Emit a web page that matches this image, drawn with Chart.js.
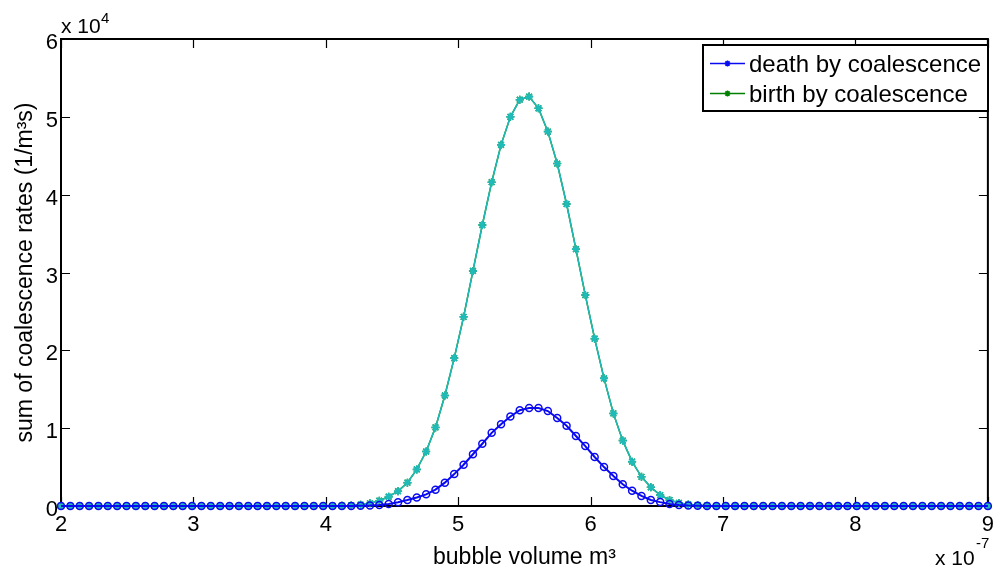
<!DOCTYPE html>
<html><head><meta charset="utf-8">
<script src="https://cdn.jsdelivr.net/npm/chart.js@4.4.1/dist/chart.umd.min.js"></script>
<style>html,body{margin:0;padding:0;background:#fff}#wrap{width:1000px;height:574px;position:relative}</style>
</head><body><div id="wrap"><canvas id="c" width="1000" height="574"></canvas></div>
<script>
// bubble volume (units of 1e-7 m^3)
const volumes = [
2.0000,2.0707,2.1414,2.2121,2.2828,2.3535,2.4242,2.4949,2.5657,2.6364,
2.7071,2.7778,2.8485,2.9192,2.9899,3.0606,3.1313,3.2020,3.2727,3.3434,
3.4141,3.4848,3.5556,3.6263,3.6970,3.7677,3.8384,3.9091,3.9798,4.0505,
4.1212,4.1919,4.2626,4.3333,4.4040,4.4747,4.5455,4.6162,4.6869,4.7576,
4.8283,4.8990,4.9697,5.0404,5.1111,5.1818,5.2525,5.3232,5.3939,5.4646,
5.5354,5.6061,5.6768,5.7475,5.8182,5.8889,5.9596,6.0303,6.1010,6.1717,
6.2424,6.3131,6.3838,6.4545,6.5253,6.5960,6.6667,6.7374,6.8081,6.8788,
6.9495,7.0202,7.0909,7.1616,7.2323,7.3030,7.3737,7.4444,7.5152,7.5859,
7.6566,7.7273,7.7980,7.8687,7.9394,8.0101,8.0808,8.1515,8.2222,8.2929,
8.3636,8.4343,8.5051,8.5758,8.6465,8.7172,8.7879,8.8586,8.9293,9.0000];
// death by coalescence (units of 1e4 1/(m^3 s))
const deathRates = [
0,0,0,0,0,0,0,0,0,0,
0,0,0,0,0,0,0,0,0,0,
0,0,0,0,0,0,0,0,0,0,
0,0.001,0.003,0.006,0.013,0.026,0.047,0.077,0.11,0.15,
0.21,0.30,0.41,0.53,0.665,0.80,0.94,1.05,1.15,1.23,
1.26,1.26,1.22,1.13,1.03,0.90,0.77,0.63,0.50,0.385,
0.28,0.196,0.13,0.077,0.05,0.026,0.013,0.006,0.003,0.001,
0,0,0,0,0,0,0,0,0,0,
0,0,0,0,0,0,0,0,0,0,
0,0,0,0,0,0,0,0,0,0];
// birth by coalescence (units of 1e4 1/(m^3 s))
const birthRates = [
0,0,0,0,0,0,0,0,0,0,
0,0,0,0,0,0,0,0,0,0,
0,0,0,0,0,0,0,0,0,0,
0.003,0.008,0.017,0.035,0.068,0.12,0.19,0.30,0.47,0.70,
1.01,1.42,1.90,2.43,3.02,3.61,4.16,4.64,5.00,5.22,
5.26,5.11,4.81,4.40,3.88,3.30,2.71,2.15,1.64,1.19,
0.84,0.57,0.375,0.24,0.14,0.077,0.04,0.02,0.01,0.004,
0,0,0,0,0,0,0,0,0,0,
0,0,0,0,0,0,0,0,0,0,
0,0,0,0,0,0,0,0,0,0];
const xTicks = [2,3,4,5,6,7,8,9];
const yTicks = [0,1,2,3,4,5,6];
const seriesLabels = ['death by coalescence','birth by coalescence'];
const xTitle = 'bubble volume m\u00B3';
const yTitle = 'sum of coalescence rates (1/m\u00B3s)';

const FONT = '"Liberation Sans", Arial, Helvetica, sans-serif';
const BLUE = '#0a0af0';
const GREEN = '#008000';
const CYAN = '#1fbaba';

function pts(arr){ return volumes.map((v,i)=>({x:v,y:arr[i]})); }

const frame = {
  id:'frame',
  beforeDatasetsDraw(chart){
    const {ctx, chartArea:a, scales:{x,y}} = chart;
    ctx.save();
    ctx.strokeStyle='#000'; ctx.lineWidth=1.2;
    const L=9;
    ctx.beginPath();
    xTicks.forEach(v=>{const p=Math.round(x.getPixelForValue(v))+0.5;
      ctx.moveTo(p,a.bottom); ctx.lineTo(p,a.bottom-L);
      ctx.moveTo(p,a.top); ctx.lineTo(p,a.top+L);});
    yTicks.forEach(v=>{const p=Math.round(y.getPixelForValue(v))+0.5;
      ctx.moveTo(a.left,p); ctx.lineTo(a.left+L,p);
      ctx.moveTo(a.right,p); ctx.lineTo(a.right-L,p);});
    ctx.stroke();
    ctx.lineWidth=2;
    ctx.strokeRect(a.left,a.top,a.right-a.left,a.bottom-a.top);
    ctx.restore();
  },
  afterDraw(chart){
    const {ctx, chartArea:a} = chart;
    ctx.save();
    ctx.fillStyle='#000';
    ctx.textBaseline='alphabetic'; ctx.textAlign='left';
    // exponent labels
    ctx.font='21px '+FONT;
    ctx.fillText('x 10', a.left, 33);
    ctx.font='15px '+FONT;
    ctx.fillText('4', a.left+40, 23);
    ctx.font='21px '+FONT;
    ctx.fillText('x 10', 935, 565);
    ctx.font='15px '+FONT;
    ctx.fillText('-7', 976, 548);
    // legend
    const bx=703, by=45, bw=285, bh=66;
    ctx.fillStyle='#fff'; ctx.fillRect(bx,by,bw,bh);
    ctx.strokeStyle='#000'; ctx.lineWidth=2; ctx.strokeRect(bx,by,bw,bh);
    const rows=[{c:BLUE,t:seriesLabels[0],y:63.5},{c:GREEN,t:seriesLabels[1],y:93.5}];
    rows.forEach(r=>{
      ctx.strokeStyle=r.c; ctx.lineWidth=1.5;
      ctx.beginPath(); ctx.moveTo(710,r.y); ctx.lineTo(745,r.y); ctx.stroke();
      const cx=727.5, s=3;
      ctx.beginPath();
      ctx.moveTo(cx-s,r.y); ctx.lineTo(cx+s,r.y);
      ctx.moveTo(cx,r.y-s); ctx.lineTo(cx,r.y+s);
      ctx.moveTo(cx-s*0.7,r.y-s*0.7); ctx.lineTo(cx+s*0.7,r.y+s*0.7);
      ctx.moveTo(cx-s*0.7,r.y+s*0.7); ctx.lineTo(cx+s*0.7,r.y-s*0.7);
      ctx.stroke();
      ctx.fillStyle='#000'; ctx.font='24px '+FONT;
      ctx.fillText(r.t, 749, r.y+8.5);
    });
    ctx.restore();
  }
};

new Chart(document.getElementById('c'), {
  type:'line',
  data:{datasets:[
    {label:seriesLabels[0], data:pts(deathRates), borderColor:BLUE, backgroundColor:'rgba(0,0,0,0)',
     borderWidth:2, pointStyle:'circle', pointRadius:3.5, pointBorderWidth:1.5, order:1, clip:false},
    {label:seriesLabels[1], data:pts(birthRates), borderColor:GREEN, backgroundColor:GREEN,
     borderWidth:1.5, pointStyle:'star', pointRadius:4, pointBorderWidth:1.5, order:3, clip:false},
    {label:'birth overlay', data:pts(birthRates), borderColor:CYAN, backgroundColor:CYAN,
     borderWidth:1.5, pointStyle:'star', pointRadius:4, pointBorderWidth:1.6, order:2, clip:false}
  ]},
  options:{
    responsive:false, animation:false, devicePixelRatio:1,
    layout:{padding:{left:0,top:39,right:9,bottom:0}},
    plugins:{legend:{display:false}, tooltip:{enabled:false}},
    elements:{line:{tension:0}},
    scales:{
      x:{type:'linear', min:2, max:9,
        grid:{display:false, drawTicks:false}, border:{display:false},
        afterBuildTicks(s){ s.ticks = xTicks.map(v=>({value:v})); },
        afterFit(s){ s.height = 68; },
        ticks:{autoSkip:false, maxRotation:0, padding:6, color:'#000', font:{family:FONT,size:22}},
        title:{display:true, text:xTitle, color:'#000', font:{family:FONT,size:23}, padding:{top:0,bottom:3}}
      },
      y:{type:'linear', min:0, max:6,
        grid:{display:false, drawTicks:false}, border:{display:false},
        afterBuildTicks(s){ s.ticks = yTicks.map(v=>({value:v})); },
        afterFit(s){ s.width = 61; },
        ticks:{autoSkip:false, padding:3, labelOffset:4, color:'#000', font:{family:FONT,size:22}},
        title:{display:true, text:yTitle, color:'#000', font:{family:FONT,size:23}, padding:{top:12,bottom:0}}
      }
    }
  },
  plugins:[frame]
});
</script></body></html>
